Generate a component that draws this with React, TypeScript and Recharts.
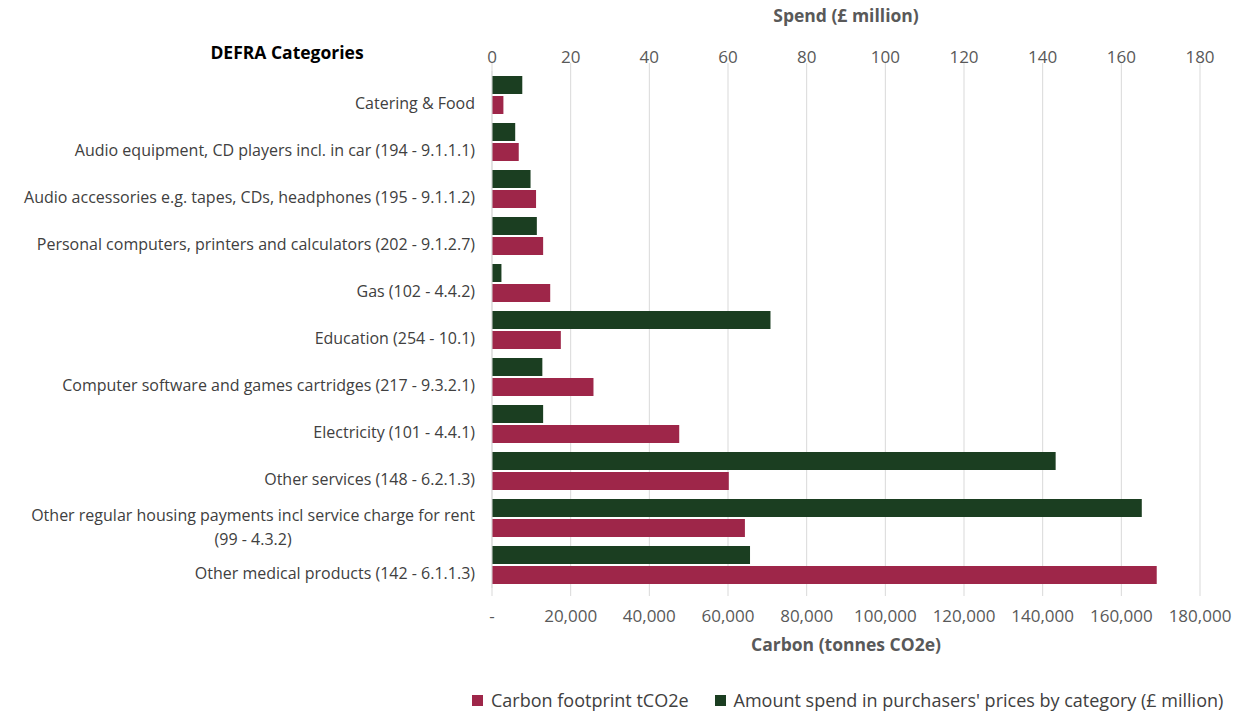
import React from 'react'
import { BarChart, Bar, XAxis, YAxis, CartesianGrid, Legend } from 'recharts'

const categories = [
  'Catering & Food',
  'Audio equipment, CD players incl. in car (194 - 9.1.1.1)',
  'Audio accessories e.g. tapes, CDs, headphones (195 - 9.1.1.2)',
  'Personal computers, printers and calculators (202 - 9.1.2.7)',
  'Gas (102 - 4.4.2)',
  'Education (254 - 10.1)',
  'Computer software and games cartridges (217 - 9.3.2.1)',
  'Electricity (101 - 4.4.1)',
  'Other services (148 - 6.2.1.3)',
  'Other regular housing payments incl service charge for rent (99 - 4.3.2)',
  'Other medical products (142 - 6.1.1.3)',
]
const spendValues = [7.7, 5.9, 9.8, 11.4, 2.4, 70.8, 12.8, 13.0, 143.3, 165.2, 65.6]
const carbonValues = [2900, 6800, 11200, 13000, 14800, 17500, 25800, 47600, 60200, 64300, 169000]
const spendTicks = [0, 20, 40, 60, 80, 100, 120, 140, 160, 180]
const carbonTicks = [0, 20000, 40000, 60000, 80000, 100000, 120000, 140000, 160000, 180000]

const FONT = '"Open Sans", Lato, sans-serif'
const GREEN = '#1b3e21'
const RED = '#9e2649'
const GRID = '#d9d9d9'
const TEXT = '#404040'
const CAT_SIZE = 16

const data = categories.map((category, i) => ({
  category,
  spend: spendValues[i],
  carbon: carbonValues[i],
}))

let ctx: CanvasRenderingContext2D | null = null
function measure(s: string) {
  if (!ctx) ctx = document.createElement('canvas').getContext('2d')
  if (!ctx) return s.length * 8
  ctx.font = `${CAT_SIZE}px ${FONT}`
  return ctx.measureText(s).width
}

function CategoryTick({ x, y, payload }: any) {
  const label: string = payload.value
  let lines = [label]
  if (measure(label) > 485) {
    const cut = label.lastIndexOf(' (')
    lines = [label.slice(0, cut), label.slice(cut + 1)]
  }
  const right = x - 9
  if (lines.length === 1) {
    return (
      <text x={right} y={y + 8} textAnchor="end" dominantBaseline="central" fill={TEXT} fontSize={CAT_SIZE} fontFamily={FONT}>
        {label}
      </text>
    )
  }
  const w = measure(lines[0])
  return (
    <g>
      {lines.map((l, i) => (
        <text key={i} x={right - w / 2} y={y - 3 + i * 24} textAnchor="middle" dominantBaseline="central" fill={TEXT} fontSize={CAT_SIZE} fontFamily={FONT}>
          {l}
        </text>
      ))}
    </g>
  )
}

function LegendContent() {
  const items = [
    { label: 'Carbon footprint tCO2e', color: RED },
    { label: "Amount spend in purchasers' prices by category (£ million)", color: GREEN },
  ]
  return (
    <div style={{ display: 'flex', whiteSpace: 'nowrap', marginLeft: 472, paddingTop: 13, fontFamily: FONT, fontSize: 18, color: TEXT }}>
      {items.map(it => (
        <div key={it.label} style={{ display: 'flex', alignItems: 'center', marginRight: 26, flexShrink: 0 }}>
          <span style={{ width: 11, height: 11, background: it.color, marginRight: 8, display: 'inline-block', flexShrink: 0 }} />
          {it.label}
        </div>
      ))}
    </div>
  )
}

export default function App() {
  const tick = { fill: '#595959', fontSize: 17, fontFamily: FONT }
  return (
    <div style={{ position: 'absolute', left: 0, top: 0, background: '#fff' }}>
      <BarChart
        width={1245}
        height={714}
        data={data}
        layout="vertical"
        margin={{ top: 5, right: 45, left: 0, bottom: 5 }}
        barCategoryGap="10.6%"
        barGap={2}
      >
        <CartesianGrid horizontal={false} stroke={GRID} xAxisId="spend" />
        <XAxis
          xAxisId="spend"
          type="number"
          orientation="top"
          domain={[0, 180]}
          ticks={spendTicks}
          height={66}
          axisLine={false}
          tickLine={{ stroke: GRID }}
          tickSize={8}
          tickMargin={0}
          tick={tick}
          label={{ value: 'Spend (£ million)', position: 'insideTop', offset: 5, fill: '#595959', fontSize: 17.5, fontWeight: 700, fontFamily: FONT }}
        />
        <XAxis
          xAxisId="carbon"
          type="number"
          orientation="bottom"
          domain={[0, 180000]}
          ticks={carbonTicks}
          height={87}
          axisLine={false}
          tickLine={{ stroke: GRID }}
          tickSize={8}
          tickMargin={14}
          tick={tick}
          tickFormatter={(v: number) => (v === 0 ? '-' : v.toLocaleString('en-US'))}
          label={{ value: 'Carbon (tonnes CO2e)', position: 'insideTop', offset: 51, fill: '#595959', fontSize: 17.5, fontWeight: 700, fontFamily: FONT }}
        />
        <YAxis
          type="category"
          dataKey="category"
          width={492}
          axisLine={{ stroke: GRID }}
          tickLine={false}
          interval={0}
          tick={(props: any) => <CategoryTick {...props} />}
        />
        <Legend
          verticalAlign="bottom"
          height={34}
          wrapperStyle={{ left: 0, width: 1245 }}
          content={() => <LegendContent />}
        />
        <Bar xAxisId="spend" dataKey="spend" name="Amount spend in purchasers' prices by category (£ million)" fill={GREEN} isAnimationActive={false} />
        <Bar xAxisId="carbon" dataKey="carbon" name="Carbon footprint tCO2e" fill={RED} isAnimationActive={false} />
        <text x={287} y={52} textAnchor="middle" dominantBaseline="central" fontSize={17.5} fontWeight={700} fontFamily={FONT} fill="#000">
          DEFRA Categories
        </text>
      </BarChart>
    </div>
  )
}
